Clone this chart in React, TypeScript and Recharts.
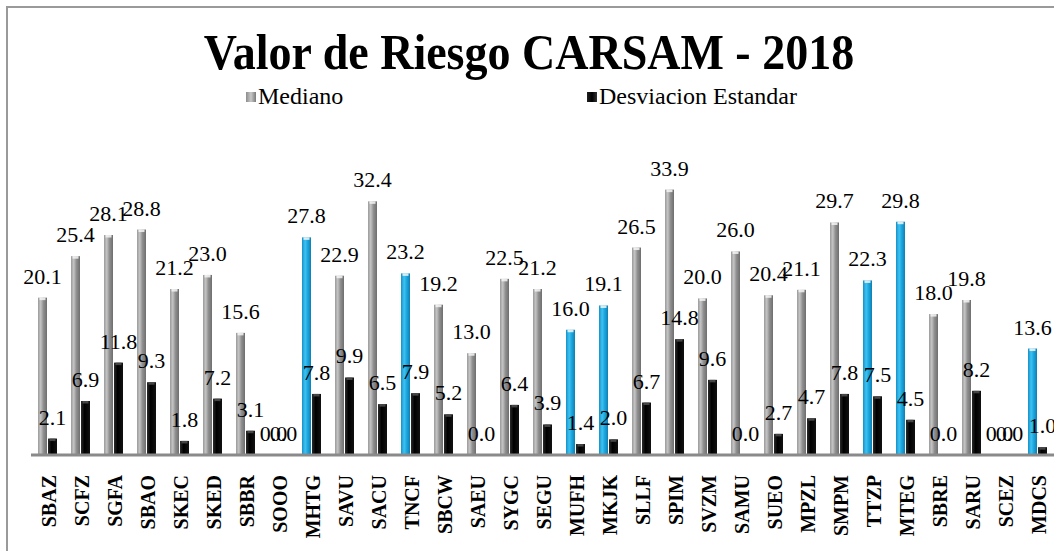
import React from "react";
import { BarChart, Bar, XAxis, YAxis, LabelList, Cell } from "recharts";

const categories = ["SBAZ","SCFZ","SGFA","SBAO","SKEC","SKED","SBBR","SOOO","MHTG","SAVU","SACU","TNCF","SBCW","SAEU","SYGC","SEGU","MUFH","MKJK","SLLF","SPIM","SVZM","SAMU","SUEO","MPZL","SMPM","TTZP","MTEG","SBRE","SARU","SCEZ","MDCS"];
const medianValues = [20.1,25.4,28.1,28.8,21.2,23.0,15.6,0.0,27.8,22.9,32.4,23.2,19.2,13.0,22.5,21.2,16.0,19.1,26.5,33.9,20.0,26.0,20.4,21.1,29.7,22.3,29.8,18.0,19.8,0.0,13.6];
const stdValues = [2.1,6.9,11.8,9.3,1.8,7.2,3.1,0.0,7.8,9.9,6.5,7.9,5.2,0.0,6.4,3.9,1.4,2.0,6.7,14.8,9.6,0.0,2.7,4.7,7.8,7.5,4.5,0.0,8.2,0.0,1.0];
const highlighted = ["MHTG","TNCF","MUFH","MKJK","TTZP","MTEG","MDCS"];
const seriesNames = ["Mediano", "Desviacion Estandar"];
const title = "Valor de Riesgo CARSAM - 2018";

const data = categories.map((c, i) => ({ name: c, mediano: medianValues[i], desv: stdValues[i] }));

const FONT = "Liberation Serif";

const CylBar = (props: any) => {
  const { x, y, width, height, fill } = props;
  if (!height || height <= 0) return null;
  const isBlack = fill === "url(#gBlack)";
  return (
    <g>
      <rect x={x} y={y} width={width} height={height} fill={fill} />
      <rect x={x + 1.5} y={y} width={Math.max(width - 3, 1)} height={2.5} fill={isBlack ? "#555" : "#f4f4f4"} opacity={isBlack ? 0.8 : 0.85} />
    </g>
  );
};

const renderTick = (props: any) => {
  const { x, y, payload } = props;
  return (
    <text
      x={x + 8}
      y={y + 12}
      transform={`rotate(-90, ${x + 8}, ${y + 12})`}
      textAnchor="end"
      style={{ fontFamily: FONT, fontWeight: "bold", fontSize: 20 }}
      fill="#000"
    >
      {payload.value}
    </text>
  );
};

export default function App() {
  return (
    <div style={{ position: "absolute", left: 0, top: 0, width: 1054, height: 551, overflow: "hidden", background: "#fff" }}>
      <div style={{ position: "absolute", left: 6, top: 6, width: 1200, height: 700, borderLeft: "2px solid #9a9a9a", borderTop: "2px solid #9a9a9a" }} />
      <div style={{ position: "absolute", left: 0, top: 24, width: 1058, textAlign: "center", fontFamily: FONT, fontWeight: "bold", fontSize: 46, lineHeight: "56px", color: "#000", transform: "scaleY(1.1)" }}>
        {title}
      </div>
      <div style={{ position: "absolute", left: 0, top: 83, width: 1054, height: 30, fontFamily: FONT, fontSize: 24, color: "#000" }}>
        <div style={{ position: "absolute", left: 246, top: 0, display: "flex", alignItems: "center" }}>
          <span style={{ display: "inline-block", width: 10, height: 10, background: "linear-gradient(90deg,#8c8c8c,#c8c8c8,#7a7a7a)", marginRight: 2 }} />
          <span>{seriesNames[0]}</span>
        </div>
        <div style={{ position: "absolute", left: 587, top: 0, display: "flex", alignItems: "center" }}>
          <span style={{ display: "inline-block", width: 10, height: 10, background: "linear-gradient(90deg,#222,#000,#333)", marginRight: 2 }} />
          <span>{seriesNames[1]}</span>
        </div>
      </div>
      <div style={{ position: "absolute", left: 0, top: 0 }}>
        <BarChart width={1054} height={551} data={data} margin={{ top: 181, right: 0, bottom: 0, left: 31 }} barSize={9} barGap={1}>
          <defs>
            <linearGradient id="gGray" x1="0" y1="0" x2="1" y2="0">
              <stop offset="0%" stopColor="#9a9a9a" />
              <stop offset="30%" stopColor="#c4c4c4" />
              <stop offset="60%" stopColor="#909090" />
              <stop offset="100%" stopColor="#6e6e6e" />
            </linearGradient>
            <linearGradient id="gBlue" x1="0" y1="0" x2="1" y2="0">
              <stop offset="0%" stopColor="#1590c8" />
              <stop offset="35%" stopColor="#3ec3f2" />
              <stop offset="65%" stopColor="#1aa4dc" />
              <stop offset="100%" stopColor="#0f7fb4" />
            </linearGradient>
            <linearGradient id="gBlack" x1="0" y1="0" x2="1" y2="0">
              <stop offset="0%" stopColor="#2a2a2a" />
              <stop offset="40%" stopColor="#000" />
              <stop offset="100%" stopColor="#111" />
            </linearGradient>
          </defs>
          <XAxis
            dataKey="name"
            interval={0}
            height={96}
            tickLine={false}
            axisLine={{ stroke: "#8a8a8a", strokeWidth: 3 }}
            tick={renderTick}
          />
          <YAxis hide domain={[0, 35]} />
          <Bar dataKey="mediano" name={seriesNames[0]} shape={CylBar} isAnimationActive={false}>
            {data.map((d, i) => (
              <Cell key={i} fill={highlighted.includes(d.name) ? "url(#gBlue)" : "url(#gGray)"} />
            ))}
            <LabelList dataKey="mediano" position="top" offset={14} formatter={(v: any) => Number(v).toFixed(1)} style={{ fontFamily: FONT, fontSize: 22, fill: "#000" }} />
          </Bar>
          <Bar dataKey="desv" name={seriesNames[1]} shape={CylBar} fill="url(#gBlack)" isAnimationActive={false}>
            <LabelList dataKey="desv" position="top" offset={14} formatter={(v: any) => Number(v).toFixed(1)} style={{ fontFamily: FONT, fontSize: 22, fill: "#000" }} />
          </Bar>
        </BarChart>
      </div>
    </div>
  );
}
